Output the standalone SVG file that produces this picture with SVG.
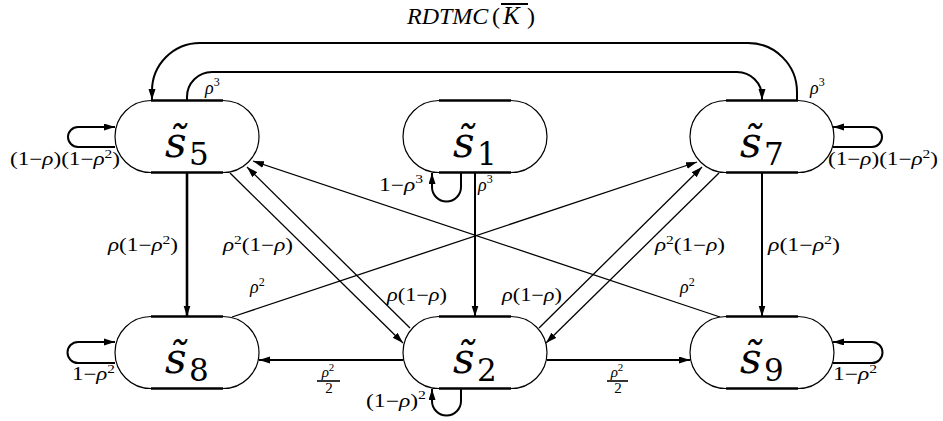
<svg xmlns="http://www.w3.org/2000/svg" width="943" height="421" viewBox="0 0 943 421">
<style>
.bg{fill:#fff}
.node rect{fill:#fff;stroke:#000;stroke-width:1.2}
.flat{stroke:#000;stroke-width:2.4}
.nl{font-family:"DejaVu Serif","Liberation Serif",serif;fill:#000}
.ns{font-size:42px;font-style:italic}
.nd{font-size:31px}
.c path{fill:none;stroke:#000;stroke-width:1.3}
.c .t{stroke-width:2}
.c .tt{stroke-width:2.6}
.lb{font-family:"Liberation Serif",serif;font-size:18px;fill:#000}
.fr{font-family:"Liberation Serif",serif;font-size:15px;fill:#000;text-anchor:middle}
.m{font-style:italic}
.ti{font-family:"Liberation Serif",serif;font-size:24px;font-style:italic;fill:#000}
</style>
<defs>
<marker id="ah" markerUnits="userSpaceOnUse" markerWidth="11" markerHeight="8" refX="11" refY="3.5" orient="auto">
<path d="M0,0 L11,3.5 L0,7 z" fill="#000"/>
</marker>
</defs>
<rect class="bg" x="0" y="0" width="943" height="421"/>

<g id="title">
<text class="ti" y="24"><tspan x="407">RDTMC</tspan><tspan x="492" font-style="normal">(</tspan><tspan x="503" font-size="25">K</tspan><tspan x="527" font-style="normal">)</tspan></text>
<line x1="501" y1="4" x2="528" y2="4" stroke="#000" stroke-width="2"/>
</g>

<g id="connectors" class="c">
<path class="t" d="M797,100 L797,92 A49,49 0 0 0 748,43 L200,43 A48,48 0 0 0 152,91 L152,100" marker-end="url(#ah)"/>
<path class="t" d="M187,100 L187,97 A25,25 0 0 1 212,72 L737,72 A25,25 0 0 1 762,97 L762,100" marker-end="url(#ah)"/>
<path class="t" d="M115,147 L78,147 A10,10 0 0 1 78,127 L115,127" marker-end="url(#ah)"/>
<path class="t" d="M833,147 L872,147 A10,10 0 0 0 872,127 L833,127" marker-end="url(#ah)"/>
<path class="t" d="M115,363 L78,363 A10.5,10.5 0 0 1 78,342 L115,342" marker-end="url(#ah)"/>
<path class="t" d="M833,363 L872,363 A10.5,10.5 0 0 0 872,342 L833,342" marker-end="url(#ah)"/>
<path class="t" d="M461,173 L461,187 A14.5,14.5 0 0 1 432,187 L432,173" marker-end="url(#ah)"/>
<path class="t" d="M461,389 L461,401 A14.5,14.5 0 0 1 432,401 L432,389" marker-end="url(#ah)"/>
<path class="t" d="M475,173 L475,316.5" marker-end="url(#ah)"/>
<path class="tt" d="M187,173 L187,316.5" marker-end="url(#ah)"/>
<path class="t" d="M762,173 L762,316.5" marker-end="url(#ah)"/>
<path class="t" d="M403,360 L259,360" marker-end="url(#ah)"/>
<path class="t" d="M547,360 L690,360" marker-end="url(#ah)"/>
<path d="M230,173 L403,343" marker-end="url(#ah)"/>
<path d="M410,328 L247,167" marker-end="url(#ah)"/>
<path d="M719,173 L546,343" marker-end="url(#ah)"/>
<path d="M539,328 L702,167" marker-end="url(#ah)"/>
<path d="M232,317 L697,162" marker-end="url(#ah)"/>
<path d="M720,317 L253,161" marker-end="url(#ah)"/>
</g>

<g id="s5" class="node">
<rect x="115" y="100.5" width="144" height="72" rx="36" ry="36"/>
<line class="flat" x1="151" y1="100.5" x2="223" y2="100.5"/><line class="flat" x1="151" y1="172.5" x2="223" y2="172.5"/>
<text class="nl"><tspan class="ns" x="165" y="157">s&#771;</tspan><tspan class="nd" x="189" y="165">5</tspan></text>
</g>
<g id="s1" class="node">
<rect x="403" y="100.5" width="144" height="72" rx="36" ry="36"/>
<line class="flat" x1="439" y1="100.5" x2="511" y2="100.5"/><line class="flat" x1="439" y1="172.5" x2="511" y2="172.5"/>
<text class="nl"><tspan class="ns" x="453" y="157">s&#771;</tspan><tspan class="nd" x="477" y="165">1</tspan></text>
</g>
<g id="s7" class="node">
<rect x="690" y="100.5" width="144" height="72" rx="36" ry="36"/>
<line class="flat" x1="726" y1="100.5" x2="798" y2="100.5"/><line class="flat" x1="726" y1="172.5" x2="798" y2="172.5"/>
<text class="nl"><tspan class="ns" x="740" y="157">s&#771;</tspan><tspan class="nd" x="764" y="165">7</tspan></text>
</g>
<g id="s8" class="node">
<rect x="115" y="316.5" width="144" height="72" rx="36" ry="36"/>
<line class="flat" x1="151" y1="316.5" x2="223" y2="316.5"/><line class="flat" x1="151" y1="388.5" x2="223" y2="388.5"/>
<text class="nl"><tspan class="ns" x="165" y="373">s&#771;</tspan><tspan class="nd" x="189" y="381">8</tspan></text>
</g>
<g id="s2" class="node">
<rect x="403" y="316.5" width="144" height="72" rx="36" ry="36"/>
<line class="flat" x1="439" y1="316.5" x2="511" y2="316.5"/><line class="flat" x1="439" y1="388.5" x2="511" y2="388.5"/>
<text class="nl"><tspan class="ns" x="453" y="373">s&#771;</tspan><tspan class="nd" x="477" y="381">2</tspan></text>
</g>
<g id="s9" class="node">
<rect x="690" y="316.5" width="144" height="72" rx="36" ry="36"/>
<line class="flat" x1="726" y1="316.5" x2="798" y2="316.5"/><line class="flat" x1="726" y1="388.5" x2="798" y2="388.5"/>
<text class="nl"><tspan class="ns" x="740" y="373">s&#771;</tspan><tspan class="nd" x="764" y="381">9</tspan></text>
</g>

<g id="labels">
<text class="lb" x="205" y="94"><tspan class="m">ρ</tspan><tspan font-size="12" dy="-8">3</tspan></text>
<text class="lb" x="810" y="94"><tspan class="m">ρ</tspan><tspan font-size="12" dy="-8">3</tspan></text>
<text class="lb" x="10" y="165" textLength="110" lengthAdjust="spacingAndGlyphs">(1−<tspan class="m">ρ</tspan>)(1−<tspan class="m">ρ</tspan><tspan font-size="12" dy="-7">2</tspan><tspan dy="7">)</tspan></text>
<text class="lb" x="828" y="165" textLength="110" lengthAdjust="spacingAndGlyphs">(1−<tspan class="m">ρ</tspan>)(1−<tspan class="m">ρ</tspan><tspan font-size="12" dy="-7">2</tspan><tspan dy="7">)</tspan></text>
<text class="lb" x="379" y="191" textLength="44" lengthAdjust="spacingAndGlyphs">1−<tspan class="m">ρ</tspan><tspan font-size="12" dy="-8">3</tspan></text>
<text class="lb" x="478" y="191"><tspan class="m">ρ</tspan><tspan font-size="12" dy="-8">3</tspan></text>
<text class="lb" x="108" y="251" textLength="70" lengthAdjust="spacingAndGlyphs"><tspan class="m">ρ</tspan>(1−<tspan class="m">ρ</tspan><tspan font-size="12" dy="-7">2</tspan><tspan dy="7">)</tspan></text>
<text class="lb" x="223" y="251" textLength="70" lengthAdjust="spacingAndGlyphs"><tspan class="m">ρ</tspan><tspan font-size="12" dy="-7">2</tspan><tspan dy="7">(1−</tspan><tspan class="m">ρ</tspan>)</text>
<text class="lb" x="655" y="251" textLength="70" lengthAdjust="spacingAndGlyphs"><tspan class="m">ρ</tspan><tspan font-size="12" dy="-7">2</tspan><tspan dy="7">(1−</tspan><tspan class="m">ρ</tspan>)</text>
<text class="lb" x="768" y="251" textLength="72" lengthAdjust="spacingAndGlyphs"><tspan class="m">ρ</tspan>(1−<tspan class="m">ρ</tspan><tspan font-size="12" dy="-7">2</tspan><tspan dy="7">)</tspan></text>
<text class="lb" x="250" y="293"><tspan class="m">ρ</tspan><tspan font-size="12" dy="-7">2</tspan></text>
<text class="lb" x="680" y="293"><tspan class="m">ρ</tspan><tspan font-size="12" dy="-7">2</tspan></text>
<text class="lb" x="387" y="301" textLength="60" lengthAdjust="spacingAndGlyphs"><tspan class="m">ρ</tspan>(1−<tspan class="m">ρ</tspan>)</text>
<text class="lb" x="502" y="301" textLength="60" lengthAdjust="spacingAndGlyphs"><tspan class="m">ρ</tspan>(1−<tspan class="m">ρ</tspan>)</text>
<text class="lb" x="72" y="380" textLength="43" lengthAdjust="spacingAndGlyphs">1−<tspan class="m">ρ</tspan><tspan font-size="12" dy="-7">2</tspan></text>
<text class="lb" x="833" y="380" textLength="44" lengthAdjust="spacingAndGlyphs">1−<tspan class="m">ρ</tspan><tspan font-size="12" dy="-7">2</tspan></text>
<text class="lb" x="366" y="407" textLength="60" lengthAdjust="spacingAndGlyphs">(1−<tspan class="m">ρ</tspan>)<tspan font-size="12" dy="-8">2</tspan></text>
<text class="fr" x="328" y="377"><tspan class="m">ρ</tspan><tspan font-size="11" dy="-6">2</tspan></text>
<line x1="317" y1="381" x2="340" y2="381" stroke="#000" stroke-width="1.6"/>
<text class="fr" x="329" y="393">2</text>
<text class="fr" x="617" y="377"><tspan class="m">ρ</tspan><tspan font-size="11" dy="-6">2</tspan></text>
<line x1="607" y1="381" x2="628" y2="381" stroke="#000" stroke-width="1.6"/>
<text class="fr" x="618" y="393">2</text>
</g>
</svg>
